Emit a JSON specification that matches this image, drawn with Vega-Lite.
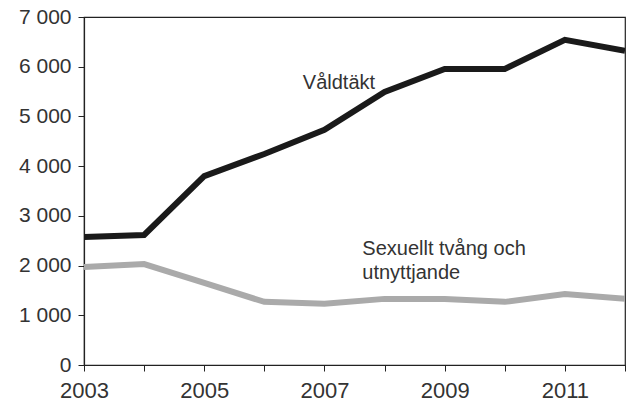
{
  "$schema": "https://vega.github.io/schema/vega-lite/v6.json",
  "width": 541,
  "height": 348,
  "autosize": {"type": "none"},
  "padding": {"left": 84, "top": 17, "right": 5, "bottom": 42},
  "background": "white",
  "config": {
    "view": {"stroke": "#222", "strokeWidth": 1.2},
    "font": "Liberation Sans"
  },
  "datasets": {
    "series": [
      {"year": 2003, "serie": "Våldtäkt", "value": 2575},
      {"year": 2004, "serie": "Våldtäkt", "value": 2615},
      {"year": 2005, "serie": "Våldtäkt", "value": 3800},
      {"year": 2006, "serie": "Våldtäkt", "value": 4245},
      {"year": 2007, "serie": "Våldtäkt", "value": 4730},
      {"year": 2008, "serie": "Våldtäkt", "value": 5490},
      {"year": 2009, "serie": "Våldtäkt", "value": 5955},
      {"year": 2010, "serie": "Våldtäkt", "value": 5955},
      {"year": 2011, "serie": "Våldtäkt", "value": 6540},
      {"year": 2012, "serie": "Våldtäkt", "value": 6320},
      {"year": 2003, "serie": "Sexuellt tvång och utnyttjande", "value": 1970},
      {"year": 2004, "serie": "Sexuellt tvång och utnyttjande", "value": 2030},
      {"year": 2005, "serie": "Sexuellt tvång och utnyttjande", "value": 1650},
      {"year": 2006, "serie": "Sexuellt tvång och utnyttjande", "value": 1270},
      {"year": 2007, "serie": "Sexuellt tvång och utnyttjande", "value": 1230},
      {"year": 2008, "serie": "Sexuellt tvång och utnyttjande", "value": 1330},
      {"year": 2009, "serie": "Sexuellt tvång och utnyttjande", "value": 1330},
      {"year": 2010, "serie": "Sexuellt tvång och utnyttjande", "value": 1270},
      {"year": 2011, "serie": "Sexuellt tvång och utnyttjande", "value": 1430},
      {"year": 2012, "serie": "Sexuellt tvång och utnyttjande", "value": 1330}
    ],
    "labels": [
      {"x": 2006.64, "y": 5670, "text": "Våldtäkt"},
      {"x": 2007.63, "y": 2330, "text": "Sexuellt tvång och"},
      {"x": 2007.63, "y": 1850, "text": "utnyttjande"}
    ]
  },
  "layer": [
    {
      "data": {"name": "series"},
      "mark": {"type": "line", "strokeWidth": 6, "strokeJoin": "miter", "clip": true},
      "encoding": {
        "x": {
          "field": "year", "type": "quantitative",
          "scale": {"domain": [2003, 2012], "nice": false, "zero": false},
          "axis": {
            "title": null, "grid": false,
            "values": [2003, 2004, 2005, 2006, 2007, 2008, 2009, 2010, 2011, 2012],
            "format": "d",
            "labelExpr": "datum.value % 2 == 1 ? datum.label : ''",
            "domainColor": "#222", "domainWidth": 1.2,
            "tickColor": "#222", "tickSize": 6, "tickWidth": 1,
            "labelFontSize": 22, "labelColor": "#333", "labelPadding": 9,
            "labelFont": "Liberation Sans", "labelFlush": false
          }
        },
        "y": {
          "field": "value", "type": "quantitative",
          "scale": {"domain": [0, 7000], "nice": false},
          "axis": {
            "title": null, "grid": false,
            "values": [0, 1000, 2000, 3000, 4000, 5000, 6000, 7000],
            "labelExpr": "replace(format(datum.value, ','), ',', ' ')",
            "domainColor": "#222", "domainWidth": 1.2,
            "tickColor": "#222", "tickSize": 6, "tickWidth": 1,
            "labelFontSize": 21, "labelColor": "#333", "labelPadding": 7,
            "labelFont": "Liberation Sans"
          }
        },
        "color": {
          "field": "serie", "type": "nominal",
          "scale": {"domain": ["Våldtäkt", "Sexuellt tvång och utnyttjande"], "range": ["#1a1a1a", "#aaaaaa"]},
          "legend": null
        }
      }
    },
    {
      "data": {"name": "labels"},
      "mark": {"type": "text", "align": "left", "baseline": "middle", "fontSize": 20, "color": "#333", "font": "Liberation Sans"},
      "encoding": {
        "x": {"field": "x", "type": "quantitative"},
        "y": {"field": "y", "type": "quantitative"},
        "text": {"field": "text"}
      }
    }
  ]
}
